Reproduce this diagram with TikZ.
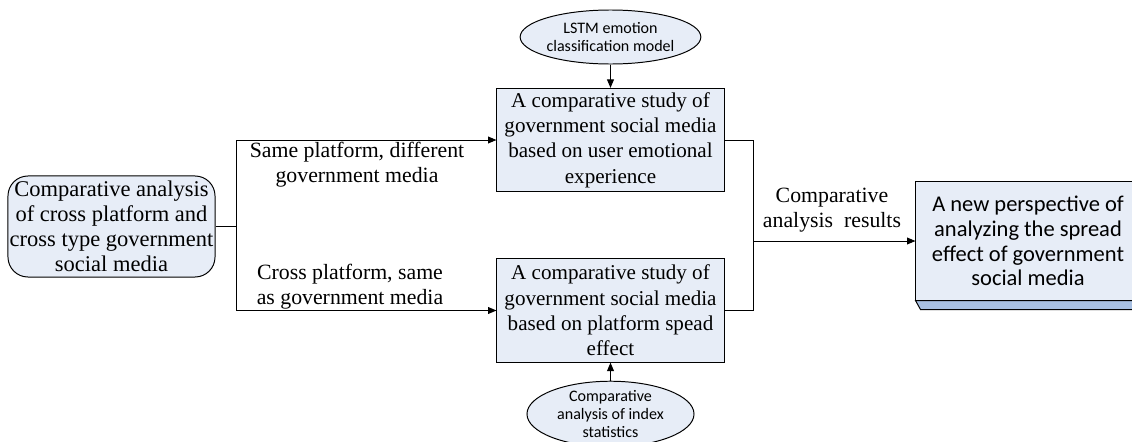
\documentclass[tikz,border=0pt]{standalone}
\usepackage{fontspec}
\setmainfont{Liberation Serif}
\newfontfamily\sansbody{Carlito}
\usetikzlibrary{arrows.meta,calc,shapes.geometric}
\definecolor{boxfill}{RGB}{231,237,247}
\definecolor{bandfill}{RGB}{168,192,226}

\begin{document}
\begin{tikzpicture}[
  x=0.025cm,
  y=-0.025cm,
  >={Triangle[length=2.1mm,width=1.7mm]},
  every path/.style={line width=0.7pt},
  source/.style={draw, fill=boxfill, rounded corners=0.5cm, minimum width=5.175cm, minimum height=2.525cm, inner sep=0pt, align=center, font=\fontsize{16}{17.8}\selectfont},
  study/.style={draw, fill=boxfill, minimum width=5.675cm, minimum height=2.58cm, inner sep=0pt, align=center, font=\fontsize{15}{18}\selectfont},
  model/.style={draw, ellipse, fill=boxfill, minimum width=4.175cm, minimum height=1.35cm, inner sep=0pt, align=center, font=\sansbody\fontsize{11.4}{12.5}\selectfont},
  result/.style={draw, fill=boxfill, minimum width=5.6cm, minimum height=2.95cm, inner sep=0pt, align=center, font=\sansbody\fontsize{16}{17.5}\selectfont},
  lbl/.style={inner sep=0pt, align=center, font=\fontsize{15.5}{17.8}\selectfont},
  arrow/.style={->}
]
  \useasboundingbox (0,0) rectangle (1132,441);

  \node[source] (src) at (111.5,226.5) {Comparative analysis\\of cross platform and\\cross type government\\social media};

  \node[study] (emo) at (610.5,140) {A comparative study of\\government social media\\based on user emotional\\experience};
  \node[study] (plat) at (610.5,310.5) {A comparative study of\\government social media\\based on platform spead\\effect};

  \node[model] (lstm) at (610.5,37) {LSTM emotion\\classification model};
  \node[model] (stats) at (610.5,414) {Comparative\\analysis of index\\statistics};

  \node[result] (res) at (1028,241) {A new perspective of\\analyzing the spread\\effect of government\\social media};
  \filldraw[fill=bandfill] (res.south west) -- (res.south east) -- ++(0,9) -- ($(res.south west)+(5,9)$) -- cycle;

  \node[lbl] (same) at (357,165) {Same platform, different\\government media};
  \node[lbl] (cross) at (350,287) {Cross platform, same\\as government media};
  \node[lbl] (cmp) at (832,210) {Comparative\\analysis~ results};

  \coordinate (split) at (236,226.5);
  \coordinate (join) at (753,241);

  \draw (src.east) -- (split);
  \draw[arrow] (split) |- (emo.west);
  \draw[arrow] (split) |- (plat.west);
  \draw[arrow] (lstm.south) -- (emo.north);
  \draw[arrow] (stats.north) -- (plat.south);
  \draw (emo.east) -| (join);
  \draw (plat.east) -| (join);
  \draw[arrow] (join) -- (res.west);
\end{tikzpicture}
\end{document}
